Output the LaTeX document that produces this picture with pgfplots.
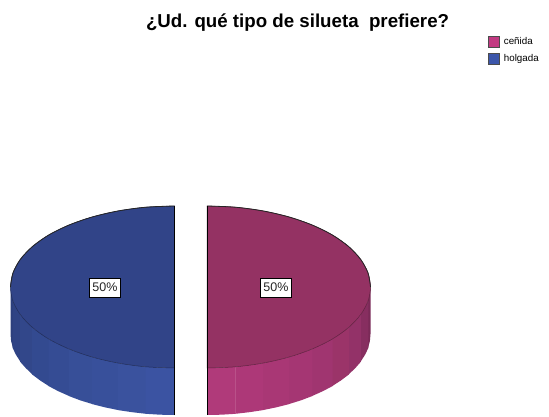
\documentclass[border=0pt]{standalone}
\usepackage{fontspec}
\setmainfont{Liberation Sans}
\usepackage{pgfplots}
\usepackage{pgfplotstable}
\pgfplotsset{compat=1.18}

% top face outlines, coordinates in reference pixels (y counted up)
\pgfplotstableread{
x y
207 210
235.4 208.8
262.9 205.1
288.8 199.1
312.1 191.0
332.2 181.1
348.6 169.5
360.6 156.7
368.0 143.1
370.5 129
368.0 114.9
360.6 101.3
348.6 88.5
332.2 76.9
312.1 67.0
288.8 58.9
262.9 52.9
235.4 49.2
207 48
}\rightface
\pgfplotstableread{
x y
174.5 210
146 208.8
118.4 205.1
92.5 199.1
69.1 191.0
48.9 181.1
32.5 169.5
20.4 156.7
13 143.1
10.5 129
13 114.9
20.4 101.3
32.5 88.5
48.9 76.9
69.1 67.0
92.5 58.9
118.4 52.9
146 49.2
174.5 48
}\leftface

\definecolor{pinktop}{HTML}{943263}
\definecolor{bluetop}{HTML}{314488}
\definecolor{pinkkey}{HTML}{C23A82}
\definecolor{bluekey}{HTML}{3C56AA}

\pgfplotsset{
  swatch/.style={/pgfplots/legend image code/.code={
    \draw[fill=#1, draw=black!70, line width=0.8pt] (0cm,-0.19cm) rectangle (0.39cm,0.19cm);
    \path (0.46cm,0cm);}},
}

\begin{document}
\begin{tikzpicture}
\begin{axis}[
  scale only axis, width=549pt, height=416pt,
  xmin=0, xmax=549, ymin=0, ymax=416,
  hide axis, clip=false,
  title={\fontsize{18.7}{21}\selectfont\bfseries ¿Ud. qué tipo de silueta\ \ prefiere?},
  title style={at={(0.542,0.952)}, anchor=center, inner sep=0pt, yshift=-9pt},
  legend style={at={(axis cs:488,381)}, anchor=north west, draw=none, fill=none,
    font=\fontsize{9.8}{12}\selectfont, inner sep=0pt, row sep=4.5pt,
    /tikz/every even column/.style={column sep=3.5pt}},
  legend cell align=left,
]
\addlegendimage{swatch=pinkkey}
\addlegendentry{ceñida}
\addlegendimage{swatch=bluekey}
\addlegendentry{holgada}

% right slice, side wall from the outer edge to the gap
\addplot[fill={rgb,255:red,122;green,42;blue,87}, draw=none] coordinates {(370.5,129) (368,114.9) (368,67.9) (369.9,74.9) (370.5,82)} -- cycle;
\addplot[fill={rgb,255:red,135;green,46;blue,96}, draw=none] coordinates {(368.3,114.9) (360.6,101.3) (360.6,54.3) (364.9,61) (368.3,67.9)} -- cycle;
\addplot[fill={rgb,255:red,147;green,50;blue,104}, draw=none] coordinates {(360.9,101.3) (348.6,88.5) (348.6,41.5) (355.2,47.8) (360.9,54.3)} -- cycle;
\addplot[fill={rgb,255:red,155;green,52;blue,105}, draw=none] coordinates {(348.9,88.5) (332.2,76.9) (332.2,29.9) (340.9,35.5) (348.9,41.5)} -- cycle;
\addplot[fill={rgb,255:red,160;green,53;blue,112}, draw=none] coordinates {(332.5,76.9) (312.1,67) (312.1,20) (322.6,24.7) (332.5,29.9)} -- cycle;
\addplot[fill={rgb,255:red,165;green,54;blue,115}, draw=none] coordinates {(312.4,67) (288.8,58.9) (288.8,11.9) (300.8,15.6) (312.4,20)} -- cycle;
\addplot[fill={rgb,255:red,169;green,55;blue,117}, draw=none] coordinates {(289.1,58.9) (262.9,52.9) (262.9,5.9) (276.1,8.6) (289.1,11.9)} -- cycle;
\addplot[fill={rgb,255:red,173;green,56;blue,120}, draw=none] coordinates {(263.2,52.9) (235.4,49.2) (235.4,2.2) (249.3,3.8) (263.2,5.9)} -- cycle;
\addplot[fill={rgb,255:red,176;green,58;blue,122}, draw=none] coordinates {(235.7,49.2) (207,48) (207,1) (221.3,1.3) (235.7,2.2)} -- cycle;

% left slice, side wall
\addplot[fill={rgb,255:red,44;green,63;blue,124}, draw=none] coordinates {(10.5,129) (13,114.9) (13,67.9) (11.1,74.9) (10.5,82)} -- cycle;
\addplot[fill={rgb,255:red,47;green,67;blue,132}, draw=none] coordinates {(12.7,114.9) (20.4,101.3) (20.4,54.3) (16.1,61) (12.7,67.9)} -- cycle;
\addplot[fill={rgb,255:red,50;green,71;blue,138}, draw=none] coordinates {(20.1,101.3) (32.5,88.5) (32.5,41.5) (25.9,47.8) (20.1,54.3)} -- cycle;
\addplot[fill={rgb,255:red,51;green,74;blue,144}, draw=none] coordinates {(32.2,88.5) (48.9,76.9) (48.9,29.9) (40.2,35.5) (32.2,41.5)} -- cycle;
\addplot[fill={rgb,255:red,53;green,76;blue,148}, draw=none] coordinates {(48.6,76.9) (69.1,67) (69.1,20) (58.5,24.7) (48.6,29.9)} -- cycle;
\addplot[fill={rgb,255:red,55;green,79;blue,152}, draw=none] coordinates {(68.8,67) (92.5,58.9) (92.5,11.9) (80.4,15.6) (68.8,20)} -- cycle;
\addplot[fill={rgb,255:red,56;green,80;blue,155}, draw=none] coordinates {(92.2,58.9) (118.4,52.9) (118.4,5.9) (105.2,8.6) (92.2,11.9)} -- cycle;
\addplot[fill={rgb,255:red,58;green,82;blue,158}, draw=none] coordinates {(118.1,52.9) (146,49.2) (146,2.2) (132.1,3.8) (118.1,5.9)} -- cycle;
\addplot[fill={rgb,255:red,59;green,83;blue,162}, draw=none] coordinates {(145.7,49.2) (174.5,48) (174.5,1) (160.2,1.3) (145.7,2.2)} -- cycle;

% top faces, front arc soft
\addplot[fill=pinktop, draw=pinktop!65!black, line width=0.5pt, smooth] table[x=x,y=y] {\rightface} -- cycle;
\addplot[fill=bluetop, draw=bluetop!65!black, line width=0.5pt, smooth] table[x=x,y=y] {\leftface} -- cycle;

% back arcs, dark
\addplot[draw=black!85, line width=0.8pt, smooth] coordinates {(207,210) (235.4,208.8) (262.9,205.1) (288.8,199.1) (312.1,191) (332.2,181.1) (348.6,169.5) (360.6,156.7) (368,143.1) (370.5,129)};
\addplot[draw=black!85, line width=0.8pt, smooth] coordinates {(174.5,210) (146,208.8) (118.4,205.1) (92.5,199.1) (69.1,191) (48.9,181.1) (32.5,169.5) (20.4,156.7) (13,143.1) (10.5,129)};

% inner edges of the two slices
\addplot[draw=black, line width=0.8pt] coordinates {(207,210) (207,1)};
\addplot[draw=black, line width=0.8pt] coordinates {(174.5,210) (174.5,1)};

% percentage labels
\addplot[draw=none, point meta=explicit,
  /pgf/number format/assume math mode=true,
  nodes near coords={\pgfmathprintnumber{\pgfplotspointmeta}\%},
  every node near coord/.style={anchor=center, fill=white, draw=black, line width=0.7pt,
    text=black!85, font=\fontsize{12.5}{14}\selectfont, inner xsep=3pt, inner ysep=5pt}]
  coordinates {(105,128.5) [50] (276,128.5) [50]};

\path (axis cs:0,0) rectangle (axis cs:549,416);
\end{axis}
\end{tikzpicture}
\end{document}
